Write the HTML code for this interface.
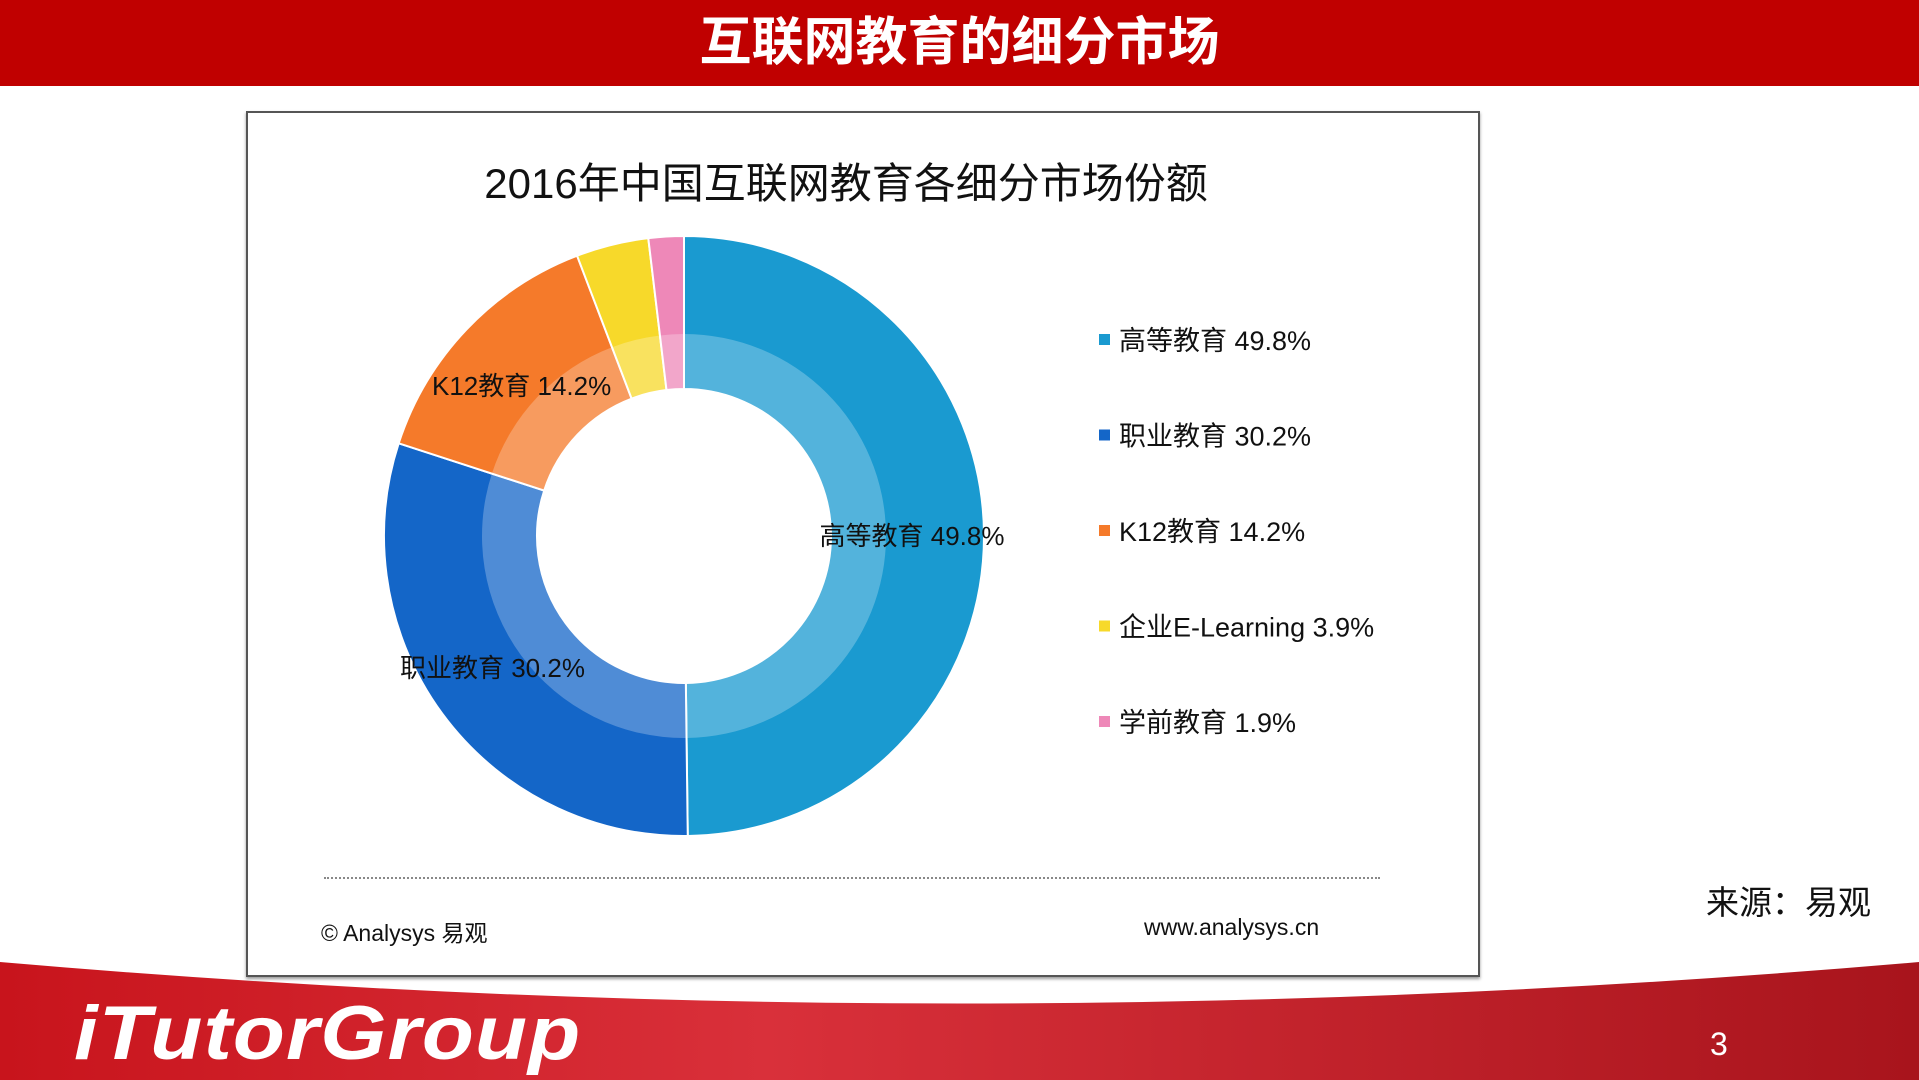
<!DOCTYPE html>
<html><head><meta charset="utf-8">
<style>
body{margin:0;width:1919px;height:1080px;overflow:hidden;background:#fff;position:relative;font-family:"Liberation Sans","Noto Sans CJK SC",sans-serif}
.abs{position:absolute}
</style></head>
<body>
<div class="abs" style="left:0;top:0;width:1919px;height:86px;background:#c00000"></div>
<div class="abs" style="left:0;top:10px;width:1919px;text-align:center;color:#fff;font-size:52px;font-weight:bold;line-height:66px">互联网教育的细分市场</div>

<svg class="abs" style="left:0;top:0" width="1919" height="1080">
<defs><linearGradient id="g" x1="0" x2="1"><stop offset="0" stop-color="#c8141c"/><stop offset="0.4" stop-color="#d9303a"/><stop offset="1" stop-color="#a8141c"/></linearGradient></defs>
<path d="M0 962 Q960 1045 1919 962 L1919 1080 L0 1080 Z" fill="url(#g)"/>
</svg>
<div class="abs" style="left:74px;top:990px;color:#fff;font-size:76px;font-weight:bold;font-style:italic;letter-spacing:1px;transform:scaleX(1.12);transform-origin:left">iTutorGroup</div>
<div class="abs" style="left:1710px;top:1026px;color:#fff;font-size:32px">3</div>
<div class="abs" style="left:1706px;top:876px;color:#111;font-size:33px">来源：易观</div>

<div class="abs" style="left:246px;top:111px;width:1230px;height:862px;border:2px solid #555;background:#fff;box-shadow:0 2px 3px #999"></div>
<div class="abs" style="left:246px;top:150px;width:1200px;text-align:center;color:#111;font-size:42px">2016年中国互联网教育各细分市场份额</div>

<svg class="abs" id="chart" style="left:0;top:0" width="1919" height="1080"></svg>

<div class="abs" style="left:324px;top:877px;width:1056px;border-top:2px dotted #888"></div>
<div class="abs" style="left:321px;top:914px;font-size:23px;color:#111">© Analysys 易观</div>
<div class="abs" style="left:1144px;top:914px;font-size:23px;color:#111">www.analysys.cn</div>

<script>
const categories=["高等教育","职业教育","K12教育","企业E-Learning","学前教育"];
const values=[49.8,30.2,14.2,3.9,1.9];
const colors=["#1a9ad0","#1466c8","#f57a2a","#f7d92a","#ee88b8"];
const svg=document.getElementById('chart');
const NS="http://www.w3.org/2000/svg";
const cx=684,cy=536,R=300,r=147,rb=202;
const total=values.reduce((a,b)=>a+b,0);
function pt(rad,a){return [cx+rad*Math.sin(a),cy-rad*Math.cos(a)];}
function arc(a0,a1,ro,ri){const l=(a1-a0)>Math.PI?1:0;const p0=pt(ro,a0),p1=pt(ro,a1),p2=pt(ri,a1),p3=pt(ri,a0);
return `M${p0} A${ro},${ro} 0 ${l} 1 ${p1} L${p2} A${ri},${ri} 0 ${l} 0 ${p3} Z`;}
let a=0;
values.forEach((v,i)=>{
 const a1=a+v/total*2*Math.PI;
 const p=document.createElementNS(NS,'path');
 p.setAttribute('d',arc(a,a1,R,r));p.setAttribute('fill',colors[i]);p.setAttribute('stroke','#fff');p.setAttribute('stroke-width','2');
 
 
 svg.appendChild(p);
 const o=document.createElementNS(NS,'path');
 o.setAttribute('d',arc(a,a1,rb,r));o.setAttribute('fill','rgba(255,255,255,0.25)');
 
 
 svg.appendChild(o);
 a=a1;
});
const lab=[[912,545,"middle"],[400,677,"start"],[432,395,"start"]];
[0,1,2].forEach(i=>{
 const t=document.createElementNS(NS,'text');
 t.setAttribute('x',lab[i][0]);t.setAttribute('y',lab[i][1]);t.setAttribute('text-anchor',lab[i][2]);
 t.setAttribute('font-size','26');t.setAttribute('fill','#111');
 t.textContent=categories[i]+"  "+values[i].toFixed(1)+"%";
 
 
 svg.appendChild(t);
});
categories.forEach((c,i)=>{
 const y=340+i*95.5;
 const s=document.createElementNS(NS,'rect');
 s.setAttribute('x',1099);s.setAttribute('y',y-6);s.setAttribute('width',11);s.setAttribute('height',11);s.setAttribute('fill',colors[i]);
 
 
 svg.appendChild(s);
 const t=document.createElementNS(NS,'text');
 t.setAttribute('x',1119);t.setAttribute('y',y+10);t.setAttribute('font-size','27');t.setAttribute('fill','#111');
 t.setAttribute('xml:space','preserve');
 t.textContent=c+"  "+values[i].toFixed(1)+"%";
 
 
 svg.appendChild(t);
});
</script>
</body></html>
